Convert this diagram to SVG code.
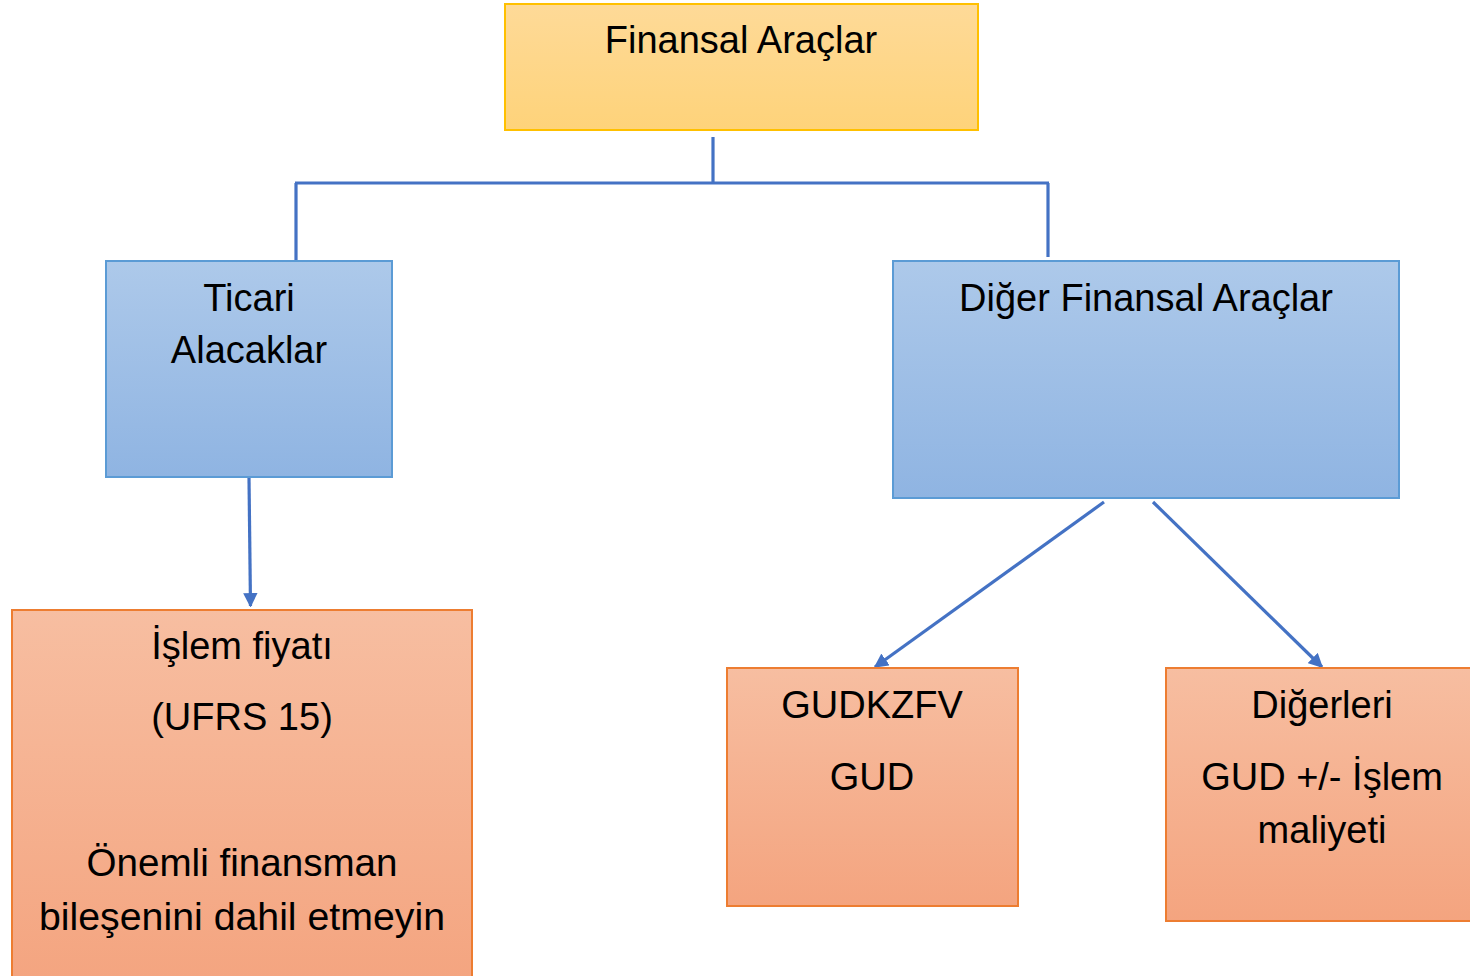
<svg xmlns="http://www.w3.org/2000/svg" width="1470" height="976" viewBox="0 0 1470 976">
<style>
text{font-family:"Liberation Sans",Arial,sans-serif;font-size:38px;fill:#000;text-anchor:middle}
.gold{fill:url(#gGold);stroke:#FFC000;stroke-width:2}
.blue{fill:url(#gBlue);stroke:#5B9BD5;stroke-width:2}
.orange{fill:url(#gOrange);stroke:#ED7D31;stroke-width:2}
.conn{fill:none;stroke:#4472C4;stroke-width:3.2}
</style>
<defs>
<linearGradient id="gGold" x1="0" y1="0" x2="0" y2="1"><stop offset="0" stop-color="#FEDA98"/><stop offset="1" stop-color="#FED37A"/></linearGradient>
<linearGradient id="gBlue" x1="0" y1="0" x2="0" y2="1"><stop offset="0" stop-color="#ADC9EA"/><stop offset="1" stop-color="#8FB4E2"/></linearGradient>
<linearGradient id="gOrange" x1="0" y1="0" x2="0" y2="1"><stop offset="0" stop-color="#F7BEA1"/><stop offset="1" stop-color="#F4A47F"/></linearGradient>
<marker id="arr" viewBox="0 0 10 10" refX="9" refY="5" markerWidth="4.5" markerHeight="4.5" orient="auto" markerUnits="strokeWidth">
<path d="M0,0 L10,5 L0,10 z" fill="#4472C4"/>
</marker>
</defs>
<g id="connectors">
<path class="conn" d="M713,137 V183"/>
<path class="conn" d="M295,183 H1049"/>
<path class="conn" d="M296,183 V260"/>
<path class="conn" d="M1048,183 V257"/>
<path class="conn" d="M249,478 L250.5,606" marker-end="url(#arr)"/>
<path class="conn" d="M1104,502 L875,667" marker-end="url(#arr)"/>
<path class="conn" d="M1153,502 L1322,667" marker-end="url(#arr)"/>
</g>
<g id="finansal-araclar">
<rect class="gold" x="505" y="4" width="473" height="126"/>
<text x="741" y="53">Finansal Araçlar</text>
</g>
<g id="ticari-alacaklar">
<rect class="blue" x="106" y="261" width="286" height="216"/>
<text x="249" y="311">Ticari</text>
<text x="249" y="363">Alacaklar</text>
</g>
<g id="diger-finansal-araclar">
<rect class="blue" x="893" y="261" width="506" height="237"/>
<text x="1146" y="311">Diğer Finansal Araçlar</text>
</g>
<g id="islem-fiyati">
<rect class="orange" x="12" y="610" width="460" height="380"/>
<text x="242" y="659">İşlem fiyatı</text>
<text x="242" y="730">(UFRS 15)</text>
<text x="242" y="876" textLength="311" lengthAdjust="spacingAndGlyphs">Önemli finansman</text>
<text x="242" y="930" textLength="406" lengthAdjust="spacingAndGlyphs">bileşenini dahil etmeyin</text>
</g>
<g id="gudkzfv">
<rect class="orange" x="727" y="668" width="291" height="238"/>
<text x="872" y="718">GUDKZFV</text>
<text x="872" y="790">GUD</text>
</g>
<g id="digerleri">
<rect class="orange" x="1166" y="668" width="320" height="253"/>
<text x="1322" y="718">Diğerleri</text>
<text x="1322" y="790">GUD +/- İşlem</text>
<text x="1322" y="843">maliyeti</text>
</g>
</svg>
